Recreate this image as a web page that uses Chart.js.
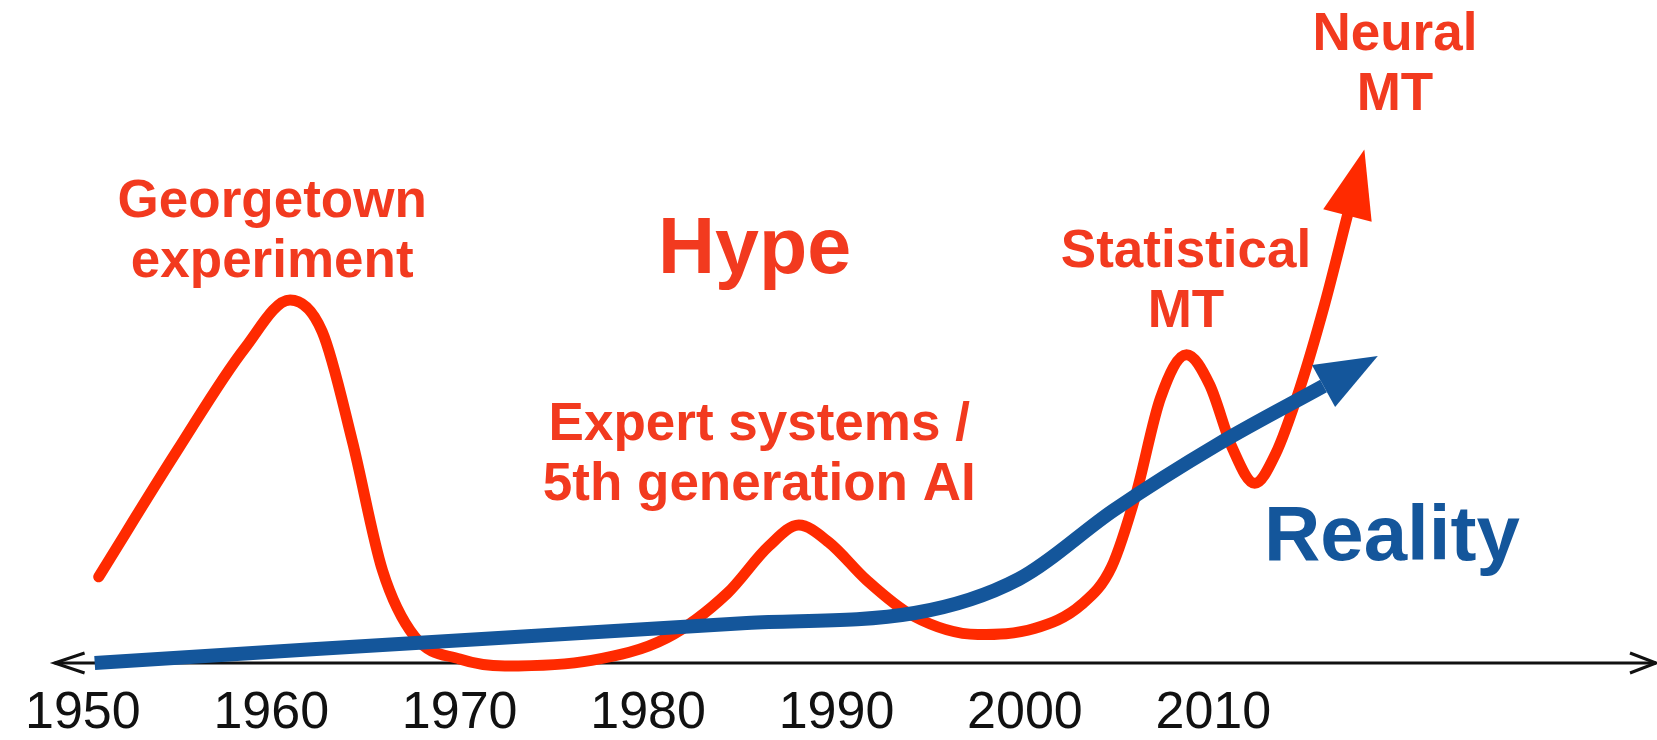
<!DOCTYPE html>
<html>
<head>
<meta charset="utf-8">
<title>Hype vs Reality</title>
<script src="https://cdn.jsdelivr.net/npm/chart.js@4.4.1/dist/chart.umd.min.js"></script>
<style>
    html, body { margin: 0; padding: 0; background: #fff; }
    #wrap { width: 1657px; height: 740px; position: relative; }
</style>
</head>
<body>
<div id="wrap"><canvas id="hypeChart"></canvas></div>
<script>
// decade labels on the time axis
const tickYears = [1950, 1960, 1970, 1980, 1990, 2000, 2010];

// red "Hype" curve
const hypeYears = [1950.84, 1955.0, 1958.6, 1961.0, 1962.7, 1964.3, 1965.9, 1967.6, 1970.0, 1972.4,
    1977.0, 1981.0, 1984.2, 1986.4, 1988.0, 1989.6, 1991.6, 1994.0, 1997.5, 2000.5, 2003.0, 2004.6,
    2005.9, 2007.2, 2008.58, 2009.8, 2011.0, 2012.2, 2013.3, 2014.6, 2015.9, 2017.12];
const hypeValues = [13.0, 32.0, 47.5, 54.75, 50.0, 33.5, 14.0, 4.0, 0.6, -0.45,
    0.4, 3.8, 10.5, 17.6, 20.8, 18.2, 12.5, 7.2, 4.3, 5.2, 8.8, 14.5,
    25.5, 40.0, 46.5, 42.0, 32.5, 27.1, 31.5, 41.5, 54.0, 67.5];

// blue "Reality" curve
const realityYears = [1950.63, 1985.24, 1994.15, 1999.68, 2004.73, 2010.27, 2015.85];
const realityValues = [0, 6.03, 7.54, 12.67, 23.08, 33.03, 41.78];

// text notes, anchored at (year, value) = centre of the first baseline
const notes = [
    { lines: ['Georgetown', 'experiment'], year: 1960.05, value: 67.3, kind: 'hype' },
    { lines: ['Hype'], year: 1985.65, value: 58.8, kind: 'hypeBig' },
    { lines: ['Expert systems /', '5th generation AI'], year: 1985.9, value: 33.6, kind: 'hype' },
    { lines: ['Statistical', 'MT'], year: 2008.55, value: 59.7, kind: 'hype' },
    { lines: ['Neural', 'MT'], year: 2019.64, value: 92.5, kind: 'hype' },
    { lines: ['Reality'], year: 2019.48, value: 15.5, kind: 'reality' }
];

const HYPE_RED = '#ff2a00';
const TEXT_RED = '#f23a1f';
const REALITY_BLUE = '#14569b';
const FONT = '"Liberation Sans", Arial, Helvetica, sans-serif';

const noteStyles = {
    hype: { size: 53, color: TEXT_RED, lineGap: 60 },
    hypeBig: { size: 79, color: TEXT_RED, lineGap: 80 },
    reality: { size: 78, color: REALITY_BLUE, lineGap: 80 }
};

const toPoints = (xs, ys) => xs.map((x, i) => ({ x, y: ys[i] }));

// time axis with open chevrons on both ends
const timeAxis = {
    id: 'timeAxis',
    beforeDatasetsDraw(chart) {
        const { ctx, scales: { x, y }, chartArea } = chart;
        const yPix = y.getPixelForValue(0);
        const left = x.getPixelForValue(1948.5);
        const right = chartArea.right - 1;
        ctx.save();
        ctx.strokeStyle = '#111';
        ctx.lineWidth = 3;
        ctx.beginPath();
        ctx.moveTo(left, yPix);
        ctx.lineTo(right, yPix);
        ctx.stroke();
        ctx.beginPath();
        ctx.moveTo(left + 30, yPix - 10);
        ctx.lineTo(left, yPix);
        ctx.lineTo(left + 30, yPix + 10);
        ctx.moveTo(right - 26, yPix - 10);
        ctx.lineTo(right, yPix);
        ctx.lineTo(right - 26, yPix + 10);
        ctx.stroke();
        ctx.restore();
    }
};

const textNotes = {
    id: 'textNotes',
    beforeDatasetsDraw(chart) {
        const { ctx, scales: { x, y } } = chart;
        ctx.save();
        ctx.textAlign = 'center';
        ctx.textBaseline = 'alphabetic';
        notes.forEach(note => {
            const st = noteStyles[note.kind];
            ctx.font = 'bold ' + st.size + 'px ' + FONT;
            ctx.fillStyle = st.color;
            const cx = x.getPixelForValue(note.year);
            const by = y.getPixelForValue(note.value);
            note.lines.forEach((line, i) => ctx.fillText(line, cx, by + i * st.lineGap));
        });
        ctx.restore();
    }
};

// filled arrowhead at the end of each curve, along its last tangent
const arrowHeads = {
    id: 'arrowHeads',
    afterDatasetsDraw(chart) {
        const ctx = chart.ctx;
        chart.data.datasets.forEach((ds, i) => {
            const pts = chart.getDatasetMeta(i).data;
            const end = pts[pts.length - 1];
            const prev = pts[pts.length - 2];
            let dx = end.x - (end.cp1x !== undefined ? end.cp1x : prev.x);
            let dy = end.y - (end.cp1y !== undefined ? end.cp1y : prev.y);
            if (Math.hypot(dx, dy) < 1) { dx = end.x - prev.x; dy = end.y - prev.y; }
            const len = Math.hypot(dx, dy);
            const ux = dx / len, uy = dy / len;
            const headLen = ds.headLength, half = ds.headWidth / 2;
            ctx.save();
            ctx.fillStyle = ds.borderColor;
            ctx.beginPath();
            ctx.moveTo(end.x + ux * headLen, end.y + uy * headLen);
            ctx.lineTo(end.x - uy * half, end.y + ux * half);
            ctx.lineTo(end.x + uy * half, end.y - ux * half);
            ctx.closePath();
            ctx.fill();
            ctx.restore();
        });
    }
};

new Chart(document.getElementById('hypeChart'), {
    type: 'line',
    data: {
        datasets: [
            {
                label: 'Reality',
                data: toPoints(realityYears, realityValues),
                borderColor: REALITY_BLUE,
                borderWidth: 14,
                borderCapStyle: 'butt',
                cubicInterpolationMode: 'monotone',
                pointRadius: 0,
                clip: false,
                order: 0,
                headLength: 62,
                headWidth: 48
            },
            {
                label: 'Hype',
                data: toPoints(hypeYears, hypeValues),
                borderColor: HYPE_RED,
                borderWidth: 11,
                borderCapStyle: 'round',
                borderJoinStyle: 'round',
                cubicInterpolationMode: 'monotone',
                pointRadius: 0,
                clip: false,
                order: 1,
                headLength: 68,
                headWidth: 50
            }
        ]
    },
    options: {
        responsive: true,
        maintainAspectRatio: false,
        animation: false,
        events: [],
        layout: { padding: 0 },
        plugins: {
            legend: { display: false },
            tooltip: { enabled: false }
        },
        scales: {
            x: {
                type: 'linear',
                min: 1946.26,
                max: 2033.55,
                grid: { display: false, drawTicks: false },
                border: { display: false },
                afterBuildTicks: scale => { scale.ticks = tickYears.map(v => ({ value: v })); },
                afterFit: scale => { scale.height = 77; },
                ticks: {
                    autoSkip: false,
                    maxRotation: 0,
                    padding: 25,
                    color: '#111',
                    font: { family: FONT, size: 52, lineHeight: 1 },
                    callback: v => String(v)
                }
            },
            y: {
                display: false,
                min: 0,
                max: 100
            }
        }
    },
    plugins: [timeAxis, textNotes, arrowHeads]
});
</script>
</body>
</html>
